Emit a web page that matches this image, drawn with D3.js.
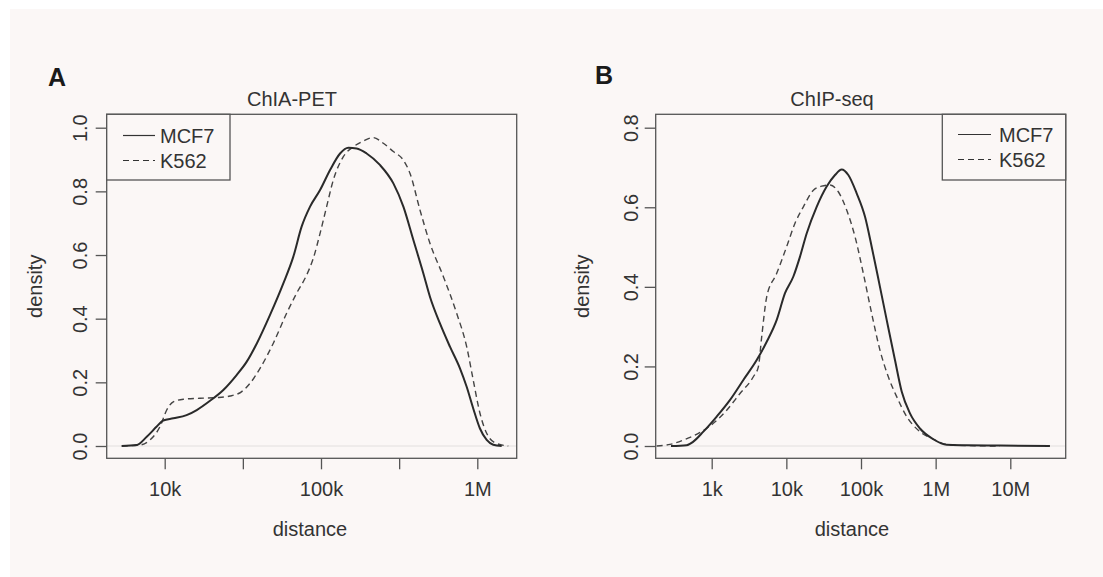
<!DOCTYPE html>
<html>
<head>
<meta charset="utf-8">
<script src="https://cdn.jsdelivr.net/npm/d3@7"></script>
<style>
  body { margin: 0; background: #fff; }
  svg { display: block; font-family: "Liberation Sans", Arial, sans-serif; }
</style>
</head>
<body>
<svg id="chart"></svg>
<script>
// panel A (ChIA-PET): log10(distance) and density
var aMcf7Log = [3.725, 3.82, 3.885, 3.949, 3.99, 4.055, 4.14, 4.205, 4.29, 4.375, 4.46, 4.525, 4.59, 4.674, 4.759, 4.823, 4.876, 4.93, 4.994, 5.058, 5.122, 5.175, 5.228, 5.292, 5.377, 5.463, 5.527, 5.591, 5.655, 5.697, 5.761, 5.825, 5.889, 5.932, 5.974, 6.017, 6.06, 6.102, 6.156];
var aMcf7Den = [0, 0.003, 0.029, 0.061, 0.08, 0.087, 0.097, 0.113, 0.142, 0.176, 0.223, 0.265, 0.323, 0.412, 0.511, 0.595, 0.689, 0.752, 0.804, 0.867, 0.919, 0.937, 0.935, 0.919, 0.883, 0.825, 0.752, 0.647, 0.542, 0.469, 0.385, 0.312, 0.244, 0.186, 0.118, 0.055, 0.019, 0.004, 0];
var aK562Log = [3.725, 3.842, 3.906, 3.97, 4.013, 4.055, 4.12, 4.226, 4.333, 4.418, 4.493, 4.546, 4.61, 4.695, 4.78, 4.844, 4.908, 4.951, 4.994, 5.036, 5.079, 5.143, 5.207, 5.271, 5.335, 5.399, 5.463, 5.527, 5.569, 5.633, 5.697, 5.783, 5.868, 5.932, 5.974, 6.017, 6.06, 6.113, 6.198];
var aK562Den = [0, 0.003, 0.019, 0.061, 0.113, 0.139, 0.147, 0.15, 0.152, 0.157, 0.171, 0.197, 0.244, 0.323, 0.417, 0.48, 0.537, 0.59, 0.668, 0.752, 0.836, 0.909, 0.94, 0.958, 0.969, 0.951, 0.925, 0.898, 0.857, 0.742, 0.637, 0.532, 0.417, 0.312, 0.207, 0.103, 0.04, 0.01, 0];

// panel B (ChIP-seq)
var bMcf7Log = [2.455, 2.665, 2.754, 2.888, 3.067, 3.246, 3.424, 3.603, 3.737, 3.871, 3.982, 4.094, 4.183, 4.272, 4.406, 4.54, 4.652, 4.741, 4.83, 4.942, 5.054, 5.143, 5.254, 5.344, 5.455, 5.545, 5.656, 5.79, 5.969, 6.147, 6.415, 6.862, 7.531];
var bMcf7Den = [0, 0.002, 0.011, 0.036, 0.074, 0.116, 0.166, 0.216, 0.262, 0.317, 0.384, 0.426, 0.476, 0.534, 0.601, 0.652, 0.681, 0.695, 0.681, 0.635, 0.576, 0.501, 0.4, 0.317, 0.216, 0.137, 0.082, 0.044, 0.017, 0.003, 0.002, 0.001, 0];
var bK562Log = [2.263, 2.442, 2.621, 2.844, 3.022, 3.201, 3.379, 3.558, 3.625, 3.67, 3.737, 3.871, 4.004, 4.116, 4.228, 4.362, 4.473, 4.585, 4.696, 4.808, 4.92, 5.031, 5.143, 5.254, 5.366, 5.478, 5.612, 5.79, 5.969, 6.147, 6.415, 6.862];
var bK562Den = [0, 0.004, 0.015, 0.034, 0.057, 0.09, 0.132, 0.174, 0.199, 0.275, 0.375, 0.434, 0.501, 0.56, 0.601, 0.643, 0.653, 0.656, 0.639, 0.593, 0.526, 0.434, 0.333, 0.241, 0.174, 0.124, 0.074, 0.036, 0.017, 0.004, 0.001, 0];

var seriesNames = ["MCF7", "K562"];
var aXTicks = [1e4, 31623, 1e5, 316228, 1e6];
var aXLabels = ["10k", "", "100k", "", "1M"];
var bXTicks = [1e3, 1e4, 1e5, 1e6, 1e7];
var bXLabels = ["1k", "10k", "100k", "1M", "10M"];
var aYTicks = [0, 0.2, 0.4, 0.6, 0.8, 1.0];
var bYTicks = [0, 0.2, 0.4, 0.6, 0.8];

var W = 1103, H = 577;
var svg = d3.select("#chart").attr("width", W).attr("height", H);

svg.append("rect").attr("x", 10).attr("y", 9).attr("width", W - 10).attr("height", H - 9)
  .attr("fill", "#fbf7f6");

function toPoints(logs, dens) {
  return logs.map(function (l, i) { return {x: Math.pow(10, l), y: dens[i]}; });
}

var panels = [
  {
    letter: "A", letterX: 48, letterY: 86,
    title: "ChIA-PET", titleX: 292,
    left: 106.7, right: 516.7,
    xDomain: [1e4, 1e6], xRange: [164.7, 477.3],
    yDomain: [0, 1], yTicks: aYTicks,
    xTicks: aXTicks, xLabels: aXLabels,
    yLabX: 42, tickLabX: 86.5, xTitleX: 310,
    series: [toPoints(aMcf7Log, aMcf7Den), toPoints(aK562Log, aK562Den)],
    legend: {x0: 106.7, x1: 230, lineX0: 123, lineX1: 155, textX: 160, base: [143, 168]}
  },
  {
    letter: "B", letterX: 595, letterY: 84,
    title: "ChIP-seq", titleX: 832,
    left: 655.7, right: 1065.7,
    xDomain: [1e3, 1e7], xRange: [711.7, 1010.3],
    yDomain: [0, 0.8], yTicks: bYTicks,
    xTicks: bXTicks, xLabels: bXLabels,
    yLabX: 589, tickLabX: 638, xTitleX: 852,
    series: [toPoints(bMcf7Log, bMcf7Den), toPoints(bK562Log, bK562Den)],
    legend: {x0: 942.3, x1: 1065.7, lineX0: 958, lineX1: 991, textX: 999, base: [142, 167]}
  }
];

var boxTop = 114.3, boxBottom = 458.3;
var ink = "#333";
var frame = "#555";

panels.forEach(function (p) {
  var g = svg.append("g");
  var x = d3.scaleLog().domain(p.xDomain).range(p.xRange);
  var y = d3.scaleLinear().domain(p.yDomain).range([446, 127.7]);

  // zero line
  g.append("line")
    .attr("x1", p.left).attr("x2", p.right)
    .attr("y1", y(0)).attr("y2", y(0))
    .attr("stroke", "#e2dfde").attr("stroke-width", 1);

  var line = d3.line()
    .x(function (d) { return x(d.x); })
    .y(function (d) { return y(d.y); })
    .curve(d3.curveMonotoneX);

  g.append("path").datum(p.series[1])
    .attr("d", line).attr("fill", "none")
    .attr("stroke", "#444").attr("stroke-width", 1.4)
    .attr("stroke-dasharray", "6,4");
  g.append("path").datum(p.series[0])
    .attr("d", line).attr("fill", "none")
    .attr("stroke", "#2a2a2a").attr("stroke-width", 2);

  g.append("rect")
    .attr("x", p.left).attr("y", boxTop)
    .attr("width", p.right - p.left).attr("height", boxBottom - boxTop)
    .attr("fill", "none").attr("stroke", frame).attr("stroke-width", 1.3);

  // x axis
  var xAxis = d3.axisBottom(x)
    .tickValues(p.xTicks)
    .tickSize(11).tickSizeOuter(0).tickPadding(14)
    .tickFormat(function (d, i) { return p.xLabels[i]; });
  var xg = g.append("g").attr("transform", "translate(0," + boxBottom + ")").call(xAxis);
  xg.select(".domain").remove();
  xg.selectAll(".tick line").attr("stroke", frame).attr("stroke-width", 1.3);
  xg.selectAll(".tick text")
    .attr("y", 38).attr("dy", null)
    .attr("fill", ink).style("font-size", "20px")
    .style("font-family", "Liberation Sans, Arial, sans-serif");

  // y axis
  var yAxis = d3.axisLeft(y).tickValues(p.yTicks).tickSize(11).tickFormat(d3.format(".1f"));
  var yg = g.append("g").attr("transform", "translate(" + p.left + ",0)").call(yAxis);
  yg.select(".domain").remove();
  yg.selectAll(".tick line").attr("stroke", frame).attr("stroke-width", 1.3);
  yg.selectAll(".tick text")
    .attr("x", null).attr("dy", null)
    .attr("transform", "translate(" + (p.tickLabX - p.left) + ",0) rotate(-90)")
    .attr("text-anchor", "middle")
    .attr("fill", ink).style("font-size", "20px")
    .style("font-family", "Liberation Sans, Arial, sans-serif");

  // labels
  g.append("text").attr("x", p.titleX).attr("y", 106)
    .attr("text-anchor", "middle").attr("fill", ink).style("font-size", "20px")
    .text(p.title);
  g.append("text").attr("x", p.xTitleX).attr("y", 536)
    .attr("text-anchor", "middle").attr("fill", ink).style("font-size", "20px")
    .text("distance");
  g.append("text")
    .attr("transform", "translate(" + p.yLabX + "," + ((boxTop + boxBottom) / 2) + ") rotate(-90)")
    .attr("text-anchor", "middle").attr("fill", ink).style("font-size", "20px")
    .text("density");
  g.append("text").attr("x", p.letterX).attr("y", p.letterY)
    .attr("fill", "#1a1a1a").style("font-size", "25px").style("font-weight", "bold")
    .text(p.letter);

  // legend
  var L = p.legend;
  g.append("rect").attr("x", L.x0).attr("y", boxTop)
    .attr("width", L.x1 - L.x0).attr("height", 180 - boxTop)
    .attr("fill", "#fbf7f6").attr("stroke", frame).attr("stroke-width", 1.3);
  seriesNames.forEach(function (name, i) {
    g.append("line")
      .attr("x1", L.lineX0).attr("x2", L.lineX1)
      .attr("y1", L.base[i] - 7.5).attr("y2", L.base[i] - 7.5)
      .attr("stroke", "#333").attr("stroke-width", 1.2)
      .attr("stroke-dasharray", i === 1 ? "6,4" : null);
    g.append("text").attr("x", L.textX).attr("y", L.base[i])
      .attr("fill", ink).style("font-size", "20px").text(name);
  });
});
</script>
</body>
</html>
